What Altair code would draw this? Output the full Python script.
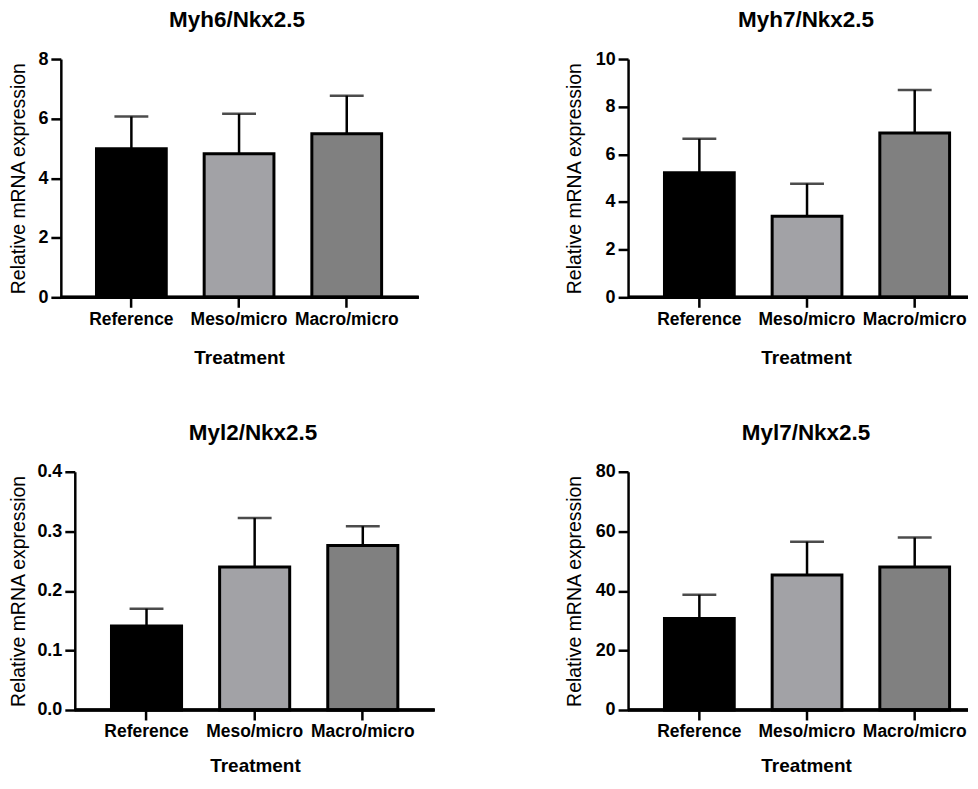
import altair as alt
import pandas as pd

categories = ["Reference", "Meso/micro", "Macro/micro"]
bar_colors = ["#000000", "#a2a2a6", "#808080"]

titles = ["Myh6/Nkx2.5", "Myh7/Nkx2.5", "Myl2/Nkx2.5", "Myl7/Nkx2.5"]

myh6_mean = [4.99, 4.82, 5.49]
myh6_err = [1.08, 1.34, 1.28]

myh7_mean = [5.23, 3.40, 6.90]
myh7_err = [1.42, 1.37, 1.80]

myl2_mean = [0.141, 0.240, 0.276]
myl2_err = [0.029, 0.0825, 0.0325]

myl7_mean = [30.7, 45.3, 48.0]
myl7_err = [8.0, 11.2, 9.9]

y_ticks = [
    [0, 2, 4, 6, 8],
    [0, 2, 4, 6, 8, 10],
    [0.0, 0.1, 0.2, 0.3, 0.4],
    [0, 20, 40, 60, 80],
]
y_formats = ["d", "d", ".1f", "d"]

FONT = "Liberation Sans"
YTITLE = "Relative mRNA expression"
H = 239


def panel(title, means, errs, ticks, fmt, width, p_outer, align, y_offset,
          y_title_x, title_cx, x_title_x, x_title_y):
    df = pd.DataFrame({"Treatment": categories, "mean": means, "err": errs})
    df["upper"] = df["mean"] + df["err"]
    ymax = ticks[-1]

    xscale = alt.Scale(domain=categories, paddingInner=0.352,
                       paddingOuter=p_outer, align=align)
    xaxis = alt.Axis(labelAngle=0, domain=False, ticks=True, tickSize=10,
                     tickWidth=2.5, tickColor="black", labelFont=FONT,
                     labelFontWeight="bold", labelFontSize=17.5,
                     labelColor="black", labelPadding=3, labelLimit=0,
                     titleFont=FONT, titleFontSize=19, titleFontWeight="bold",
                     titleColor="black", titleX=x_title_x, titleY=x_title_y,
                     titleAlign="center", titleBaseline="middle")
    yscale = alt.Scale(domain=[0, ymax], nice=False, zero=True)
    yaxis = alt.Axis(values=ticks, format=fmt, grid=False, domain=True,
                     domainWidth=2.5, domainColor="black", tickSize=10,
                     tickWidth=2.5, tickColor="black", labelFont=FONT,
                     labelFontWeight="bold", labelFontSize=18,
                     labelColor="black", labelPadding=3, titleFont=FONT,
                     titleFontSize=19.5, titleFontWeight="normal",
                     titleColor="black", titleX=y_title_x,
                     titleBaseline="middle", offset=y_offset)

    base = alt.Chart(df)
    x_enc = alt.X("Treatment:N", sort=categories, title="Treatment",
                  scale=xscale, axis=xaxis)
    y_enc = alt.Y("mean:Q", title=YTITLE, scale=yscale, axis=yaxis)

    bars = base.mark_bar(stroke="black", strokeWidth=3).encode(
        x=x_enc, y=y_enc,
        color=alt.Color("Treatment:N",
                        scale=alt.Scale(domain=categories, range=bar_colors),
                        legend=None),
    )
    stem = base.mark_rule(color="black", strokeWidth=2.5).encode(
        x=alt.X("Treatment:N", sort=categories),
        y=alt.Y("mean:Q", title=YTITLE),
        y2="upper:Q",
    )
    cap = base.mark_tick(color="black", thickness=2.5, size=34).encode(
        x=alt.X("Treatment:N", sort=categories),
        y=alt.Y("upper:Q", title=YTITLE),
    )
    xline = base.mark_rule(color="black", strokeWidth=3).encode(
        x=alt.value(-y_offset), x2=alt.value(width), y=alt.datum(0),
    )
    head = alt.Chart(pd.DataFrame({"t": [title]})).mark_text(
        font=FONT, fontSize=22.5, fontWeight="bold", color="black",
        align="center", baseline="middle",
    ).encode(text="t:N", x=alt.value(title_cx), y=alt.value(-39))
    return alt.layer(bars, stem, cap, xline, head).properties(
        width=width, height=H,
    )


# column 1 origin (y-axis of lower-left panel) ~74, column 2 origin ~626.5
p1 = panel(titles[0], myh6_mean, myh6_err, y_ticks[0], y_formats[0],
           345, 0.273, 0.369, 14, -42.5, 162.75, 164.75, 60)
p2 = panel(titles[1], myh7_mean, myh7_err, y_ticks[1], y_formats[1],
           341, 0.2546, 0.664, 0, -53.5, 178.5, 178.5, 60)
p3 = panel(titles[2], myl2_mean, myl2_err, y_ticks[2], y_formats[2],
           361, 0.34, 0.499, 0, -56.5, 178.75, 180.75, 56)
p4 = panel(titles[3], myl7_mean, myl7_err, y_ticks[3], y_formats[3],
           341, 0.2546, 0.664, 0, -53.5, 178.5, 178.5, 56)

chart = alt.concat(
    p1, p2, p3, p4, columns=2,
    spacing={"row": 55, "column": 128},
).properties(
    padding=0
).configure(background="white").configure_view(stroke=None)

chart.save("out.html", embed_options={"renderer": "svg", "actions": False})
